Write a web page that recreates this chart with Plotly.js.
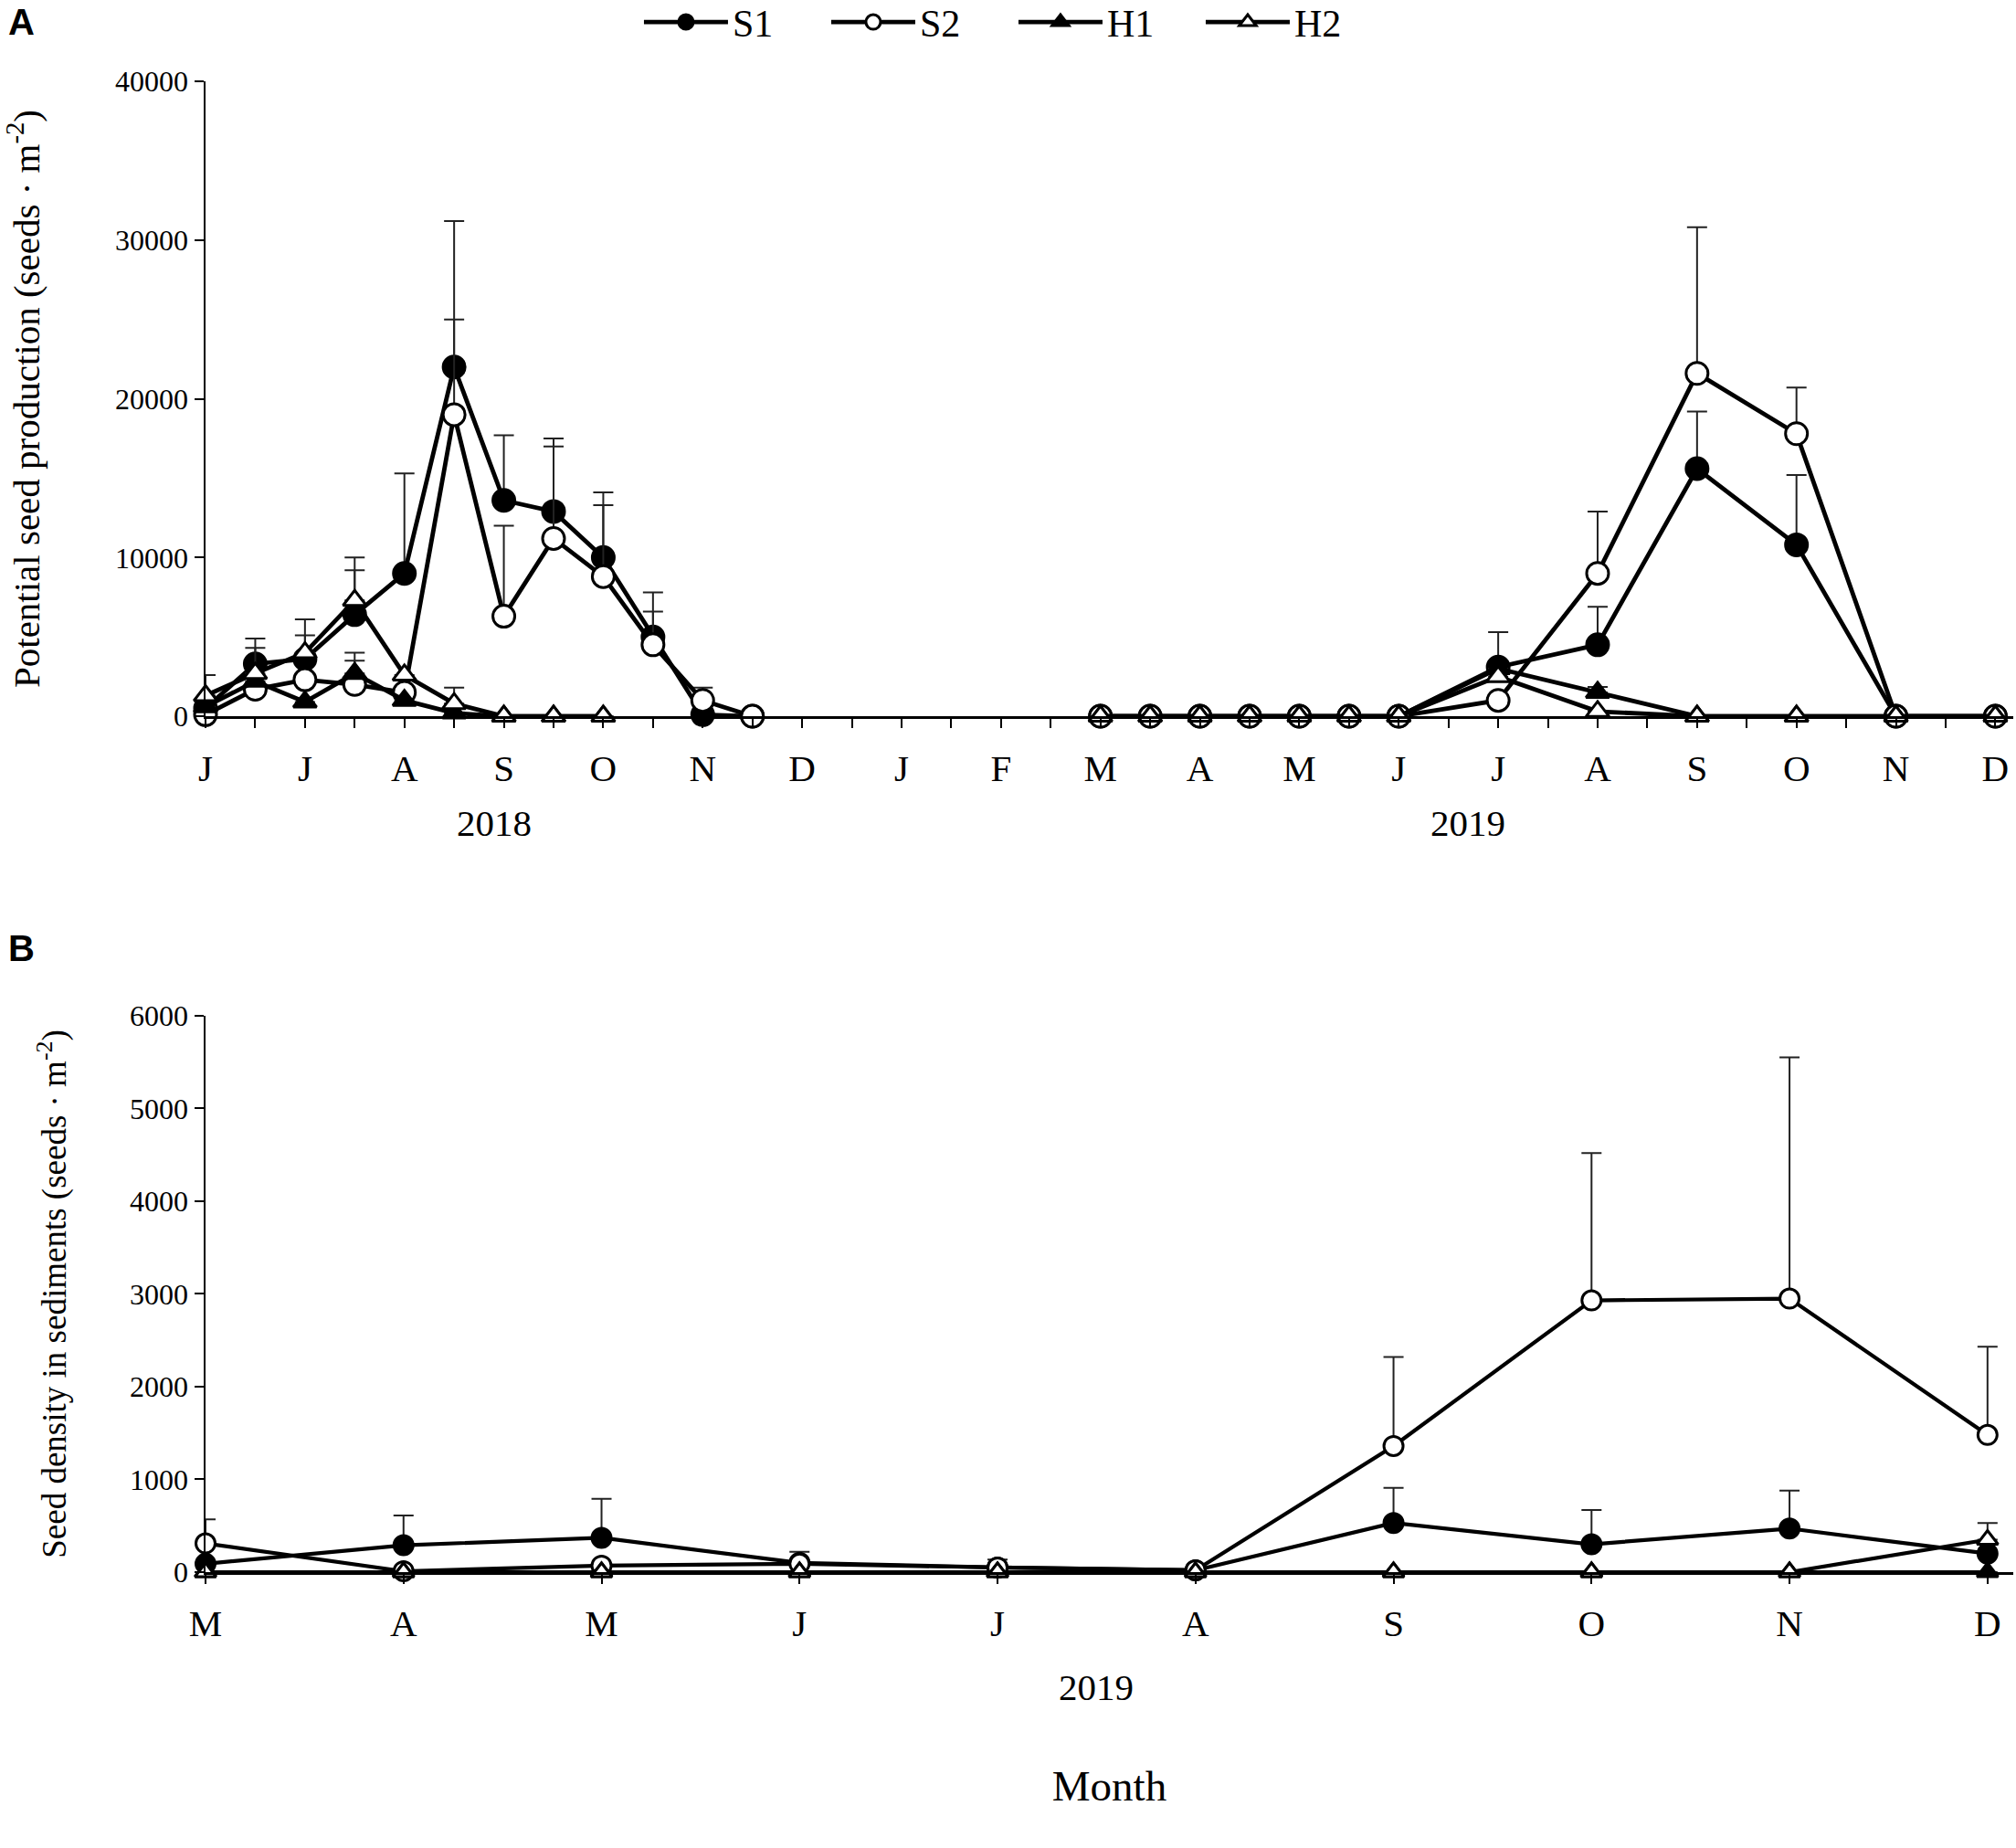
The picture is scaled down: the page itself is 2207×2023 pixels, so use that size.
<!DOCTYPE html>
<html>
<head>
<meta charset="utf-8">
<script src="https://cdn.plot.ly/plotly-3.0.1.min.js"></script>
<style>html,body{margin:0;padding:0;background:#fff;}#chart{width:2207px;height:2023px;}</style>
</head>
<body>
<div id="chart"></div>
<script>
// ---------- Panel A data ----------
const monthLabelsA = ['J','J','A','S','O','N','D','J','F','M','A','M','J','J','A','S','O','N','D'];
const xS2018 = [0,0.5,1,1.5,2,2.5,3,3.5,4,4.5,5,5.5];
const xH2018 = [0,0.5,1,1.5,2,2.5,3,3.5,4];
const x2019A = [9,9.5,10,10.5,11,11.5,12,13,14,15,16,17,18];

const S1_2018 = [500,3300,3600,6400,9000,22000,13600,12900,10000,5000,100,0];
const S1_2018_err = [0,1600,1500,2800,6300,9200,4100,4600,4100,2800,0,0];
const S2_2018 = [100,1700,2300,2000,1500,19000,6300,11200,8800,4500,1000,0];
const S2_2018_err = [0,0,0,1500,0,6000,5700,5800,4500,2100,800,0];
const H1_2018 = [600,2200,900,2700,1000,200,0,0,0];
const H1_2018_err = [0,0,0,1300,0,0,0,0,0];
const H2_2018 = [1300,2700,4000,7300,2600,800,0,0,0];
const H2_2018_err = [1300,1600,2100,2700,0,1000,0,0,0];

const S1_2019 = [0,0,0,0,0,0,0,3100,4500,15600,10800,0,0];
const S1_2019_err = [0,0,0,0,0,0,0,2200,2400,3600,4400,0,0];
const S2_2019 = [0,0,0,0,0,0,0,1000,9000,21600,17800,0,0];
const S2_2019_err = [0,0,0,0,0,0,0,0,3900,9200,2900,0,0];
const H1_2019 = [0,0,0,0,0,0,0,3000,1500,0,0,0,0];
const H1_2019_err = [0,0,0,0,0,0,0,0,350,0,0,0,0];
const H2_2019 = [0,0,0,0,0,0,0,2500,300,0,0,0,0];
const H2_2019_err = [0,0,0,0,0,0,0,0,0,0,0,0,0];

// ---------- Panel B data ----------
const monthLabelsB = ['M','A','M','J','J','A','S','O','N','D'];
const xB = [0,1,2,3,4,5,6,7,8,9];
const S1_B = [90,290,370,100,50,20,530,300,470,200];
const S1_B_err = [0,320,420,120,85,0,380,370,410,0];
const S2_B = [310,10,70,90,50,20,1360,2930,2950,1480];
const S2_B_err = [260,0,0,0,0,0,960,1590,2600,950];
const H1_B = [0,0,0,0,0,0,0,0,0,0];
const H2_B = [0,0,0,0,0,0,0,0,0,350];
const H2_B_err = [0,0,0,0,0,0,0,0,0,180];

const seriesNames = ['S1','S2','H1','H2'];
const symbols = ['circle','circle','triangle-up','triangle-up'];
const fills = ['#000','#fff','#000','#fff'];

const FONT = 'Liberation Serif, Times New Roman, serif';
const BLACK = '#000';

function joinGap(a, b) { return a.concat([null], b); }
function zeros(n) { return new Array(n).fill(0); }

function mk(idx, x, y, err, xa, ya, showlegend, msize, lw) {
  return {
    type: 'scatter', mode: 'lines+markers', name: seriesNames[idx],
    x: x, y: y, xaxis: xa, yaxis: ya, showlegend: showlegend,
    legendgroup: seriesNames[idx], cliponaxis: false,
    line: {color: BLACK, width: lw},
    marker: {symbol: symbols[idx], size: msize, color: fills[idx], line: {color: BLACK, width: 3}},
    error_y: {type: 'data', symmetric: false, array: err, arrayminus: zeros(err.length),
              color: '#222', thickness: 2, width: 11, visible: true}
  };
}

const traces = [
  mk(0, joinGap(xS2018, x2019A), joinGap(S1_2018, S1_2019), joinGap(S1_2018_err, S1_2019_err), 'x', 'y', true, 24, 4.8),
  mk(1, joinGap(xS2018, x2019A), joinGap(S2_2018, S2_2019), joinGap(S2_2018_err, S2_2019_err), 'x', 'y', true, 24, 4.8),
  mk(2, joinGap(xH2018, x2019A), joinGap(H1_2018, H1_2019), joinGap(H1_2018_err, H1_2019_err), 'x', 'y', true, 22, 4.8),
  mk(3, joinGap(xH2018, x2019A), joinGap(H2_2018, H2_2019), joinGap(H2_2018_err, H2_2019_err), 'x', 'y', true, 22, 4.8),
  mk(0, xB, S1_B, S1_B_err, 'x2', 'y2', false, 21, 4.2),
  mk(1, xB, S2_B, S2_B_err, 'x2', 'y2', false, 21, 4.2),
  mk(2, xB, H1_B, zeros(10), 'x2', 'y2', false, 20, 4.2),
  mk(3, xB, H2_B, H2_B_err, 'x2', 'y2', false, 20, 4.2)
];

const tickValsA = monthLabelsA.map((m, i) => i);

const axisCommon = {
  showline: true, linecolor: BLACK, linewidth: 2.5, showgrid: false, zeroline: false,
  ticks: 'outside', tickcolor: BLACK, tickwidth: 2, ticklen: 10
};
const xTickFont = {family: FONT, size: 41, color: BLACK};
const yTickFont = {family: FONT, size: 32, color: BLACK};

const layout = {
  width: 2207, height: 2023,
  paper_bgcolor: '#fff', plot_bgcolor: '#fff',
  margin: {l: 225, r: 3, t: 89, b: 302},
  showlegend: true,
  legend: {orientation: 'h', x: 0.24, xanchor: 'left', xref: 'paper',
           yref: 'container', y: 0.988, yanchor: 'middle',
           font: {family: FONT, size: 42, color: BLACK}, itemwidth: 92,
           entrywidth: 98, entrywidthmode: 'pixels', bgcolor: 'rgba(0,0,0,0)'},
  xaxis: Object.assign({}, axisCommon, {
    domain: [0, 1], anchor: 'y', range: [0, 18.18], tickfont: xTickFont,
    tickmode: 'array', tickvals: tickValsA, ticktext: monthLabelsA,
    ticklabelstandoff: 9,
    minor: {dtick: 0.5, tick0: 0, ticks: 'outside', ticklen: 10, tickwidth: 2, tickcolor: BLACK, showgrid: false}
  }),
  yaxis: Object.assign({}, axisCommon, {
    domain: [0.5741, 1], anchor: 'x', range: [0, 40000], tickvals: [0,10000,20000,30000,40000],
    ticktext: ['0','10000','20000','30000','40000'], ticklabelstandoff: 0, tickfont: yTickFont,
    title: {text: 'Potential seed production (seeds · m<sup>-2</sup>)', standoff: 70,
            font: {family: FONT, size: 41, color: BLACK}}
  }),
  xaxis2: Object.assign({}, axisCommon, {
    domain: [0, 1], anchor: 'y2', range: [0, 9.13], tickfont: xTickFont,
    tickmode: 'array', tickvals: xB, ticktext: monthLabelsB,
    ticklabelstandoff: 8,
    title: {text: 'Month', standoff: 140, font: {family: FONT, size: 47, color: BLACK}}
  }),
  yaxis2: Object.assign({}, axisCommon, {
    domain: [0, 0.3732], anchor: 'x2', range: [0, 6000], dtick: 1000, ticklabelstandoff: 0,
    tickfont: yTickFont,
    title: {text: 'Seed density in sediments (seeds · m<sup>-2</sup>)', standoff: 58,
            font: {family: FONT, size: 37, color: BLACK}}
  }),
  annotations: [
    {text: '<b>A</b>', xref: 'paper', yref: 'paper', x: -0.11, y: 1.0545, xanchor: 'left', yanchor: 'top',
     showarrow: false, font: {family: 'Liberation Sans, Arial, sans-serif', size: 40, color: BLACK}},
    {text: '<b>B</b>', xref: 'paper', yref: 'paper', x: -0.11, y: 0.433, xanchor: 'left', yanchor: 'top',
     showarrow: false, font: {family: 'Liberation Sans, Arial, sans-serif', size: 40, color: BLACK}},
    {text: '2018', xref: 'x', yref: 'paper', x: 2.9, y: 0.5741, yshift: -117, yanchor: 'middle',
     showarrow: false, font: {family: FONT, size: 41, color: BLACK}},
    {text: '2019', xref: 'x', yref: 'paper', x: 12.7, y: 0.5741, yshift: -117, yanchor: 'middle',
     showarrow: false, font: {family: FONT, size: 41, color: BLACK}},
    {text: '2019', xref: 'x2', yref: 'paper', x: 4.5, y: 0, yshift: -126, yanchor: 'middle',
     showarrow: false, font: {family: FONT, size: 41, color: BLACK}}
  ]
};

Plotly.newPlot('chart', traces, layout, {displayModeBar: false, staticPlot: true});
</script>
</body>
</html>
